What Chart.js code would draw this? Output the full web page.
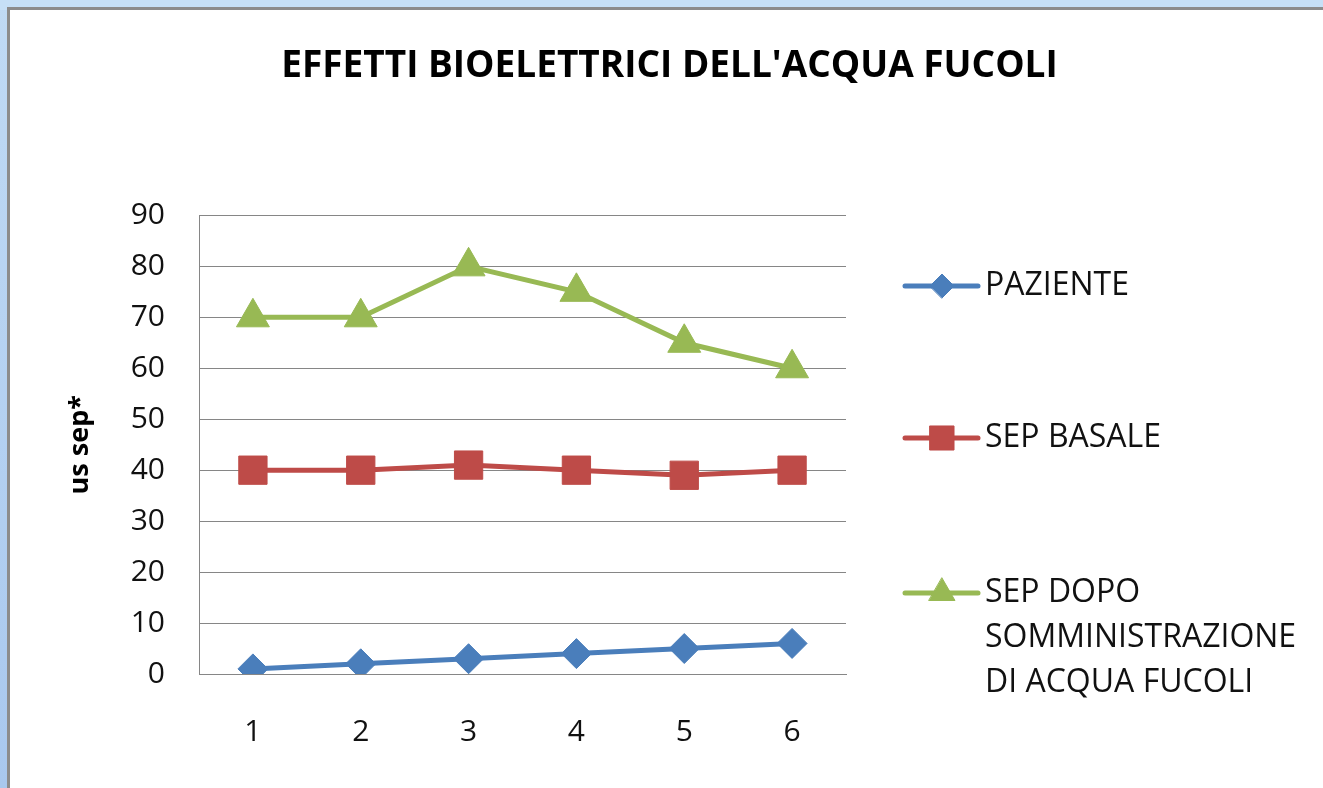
<!DOCTYPE html>
<html>
<head>
<meta charset="utf-8">
<script src="https://cdn.jsdelivr.net/npm/chart.js@4.4.1/dist/chart.umd.min.js"></script>
<style>
html,body{margin:0;padding:0;background:#fff;}
#wrap{width:1323px;height:788px;position:relative;}
</style>
</head>
<body>
<div id="wrap"><canvas id="c" width="1323" height="788"></canvas></div>
<script>
const categories = ['1', '2', '3', '4', '5', '6'];
const paziente = [1, 2, 3, 4, 5, 6];
const sepBasale = [40, 40, 41, 40, 39, 40];
const sepDopo = [70, 70, 80, 75, 65, 60];
const seriesLabels = ['PAZIENTE', 'SEP BASALE', 'SEP DOPO SOMMINISTRAZIONE DI ACQUA FUCOLI'];
const legendLines = [['PAZIENTE'], ['SEP BASALE'], ['SEP DOPO', 'SOMMINISTRAZIONE', 'DI ACQUA FUCOLI']];
const yTicks = [0, 10, 20, 30, 40, 50, 60, 70, 80, 90];
const titleText = "EFFETTI BIOELETTRICI DELL'ACQUA FUCOLI";
const yTitle = 'us sep*';

const FONT = "'Open Sans', 'Liberation Sans', sans-serif";

const frame = {
  id: 'frame',
  beforeDraw(chart) {
    const ctx = chart.ctx;
    ctx.save();
    ctx.fillStyle = '#c6e0f7';
    ctx.fillRect(0, 0, chart.width, chart.height);
    const g = ctx.createLinearGradient(0, 0, 0, chart.height);
    g.addColorStop(0, '#c0daf4');
    g.addColorStop(1, '#a9c8ee');
    ctx.fillStyle = g;
    ctx.fillRect(0, 10, 8, chart.height);
    ctx.fillStyle = '#ffffff';
    ctx.fillRect(8, 8, chart.width - 8, chart.height - 8);
    ctx.strokeStyle = '#8c8c8c';
    ctx.lineWidth = 3;
    ctx.beginPath();
    ctx.moveTo(8.5, chart.height);
    ctx.lineTo(8.5, 8.5);
    ctx.lineTo(chart.width, 8.5);
    ctx.stroke();
    ctx.restore();
  }
};

const customLegend = {
  id: 'customLegend',
  afterDraw(chart) {
    const ctx = chart.ctx;
    const ys = [286, 438, 593];
    const sizes = [12, 17, 15];
    ctx.save();
    chart.data.datasets.forEach((ds, i) => {
      const y = ys[i];
      ctx.strokeStyle = ds.borderColor;
      ctx.lineWidth = 5;
      ctx.lineCap = 'round';
      ctx.beginPath();
      ctx.moveTo(905, y);
      ctx.lineTo(978, y);
      ctx.stroke();
      ctx.fillStyle = ds.backgroundColor;
      ctx.strokeStyle = ds.backgroundColor;
      ctx.lineWidth = 1;
      Chart.helpers.drawPoint(ctx, {pointStyle: ds.pointStyle, radius: sizes[i], borderWidth: 1}, 942, y);
      ctx.fillStyle = '#111';
      ctx.font = '32px ' + FONT;
      ctx.textBaseline = 'middle';
      ctx.textAlign = 'left';
      legendLines[i].forEach((t, k) => {
        ctx.fillText(t, 985, y + k * 45);
      });
    });
    ctx.restore();
  }
};

new Chart(document.getElementById('c'), {
  type: 'line',
  data: {
    labels: categories,
    datasets: [
      {
        label: seriesLabels[0], data: paziente,
        borderColor: '#4a7ebb', backgroundColor: '#4a7ebb',
        borderWidth: 5, pointStyle: 'rectRot', pointRadius: 15,
        pointBorderWidth: 1, tension: 0
      },
      {
        label: seriesLabels[1], data: sepBasale,
        borderColor: '#be4b48', backgroundColor: '#be4b48',
        borderWidth: 5, pointStyle: 'rect', pointRadius: 20,
        pointBorderWidth: 1, tension: 0
      },
      {
        label: seriesLabels[2], data: sepDopo,
        borderColor: '#98b954', backgroundColor: '#98b954',
        borderWidth: 5, pointStyle: 'triangle', pointRadius: 19,
        pointBorderWidth: 1, tension: 0
      }
    ]
  },
  options: {
    responsive: false,
    animation: false,
    devicePixelRatio: 1,
    layout: { padding: { left: 16, right: 0, top: 0, bottom: 0 } },
    plugins: {
      legend: { display: false },
      tooltip: { enabled: false },
      title: {
        display: true,
        text: titleText,
        color: '#000',
        font: { family: FONT, size: 37, weight: 'bold' },
        padding: { top: 44, bottom: 127 }
      }
    },
    scales: {
      x: {
        offset: true,
        grid: { display: false, drawTicks: false },
        border: { display: true, color: '#868686', width: 1 },
        ticks: { color: '#111', font: { family: FONT, size: 30 }, padding: 40 },
        afterFit(scale) { scale.height = 114; }
      },
      y: {
        min: 0, max: 90,
        afterBuildTicks(scale) { scale.ticks = yTicks.map(v => ({ value: v })); },
        grid: { color: '#868686', lineWidth: 1, drawTicks: false },
        border: { display: true, color: '#868686', width: 1 },
        ticks: { color: '#111', font: { family: FONT, size: 30 }, padding: 34 },
        title: {
          display: true, text: yTitle, color: '#000',
          font: { family: FONT, size: 27, weight: 'bold' },
          padding: { top: 48, bottom: 0 }
        },
        afterFit(scale) { scale.width = 183; }
      },
      yRight: {
        position: 'right',
        min: 0, max: 90,
        grid: { display: false, drawTicks: false },
        border: { display: false },
        ticks: { display: false },
        afterFit(scale) { scale.width = 477; }
      }
    }
  },
  plugins: [frame, customLegend]
});
</script>
</body>
</html>
